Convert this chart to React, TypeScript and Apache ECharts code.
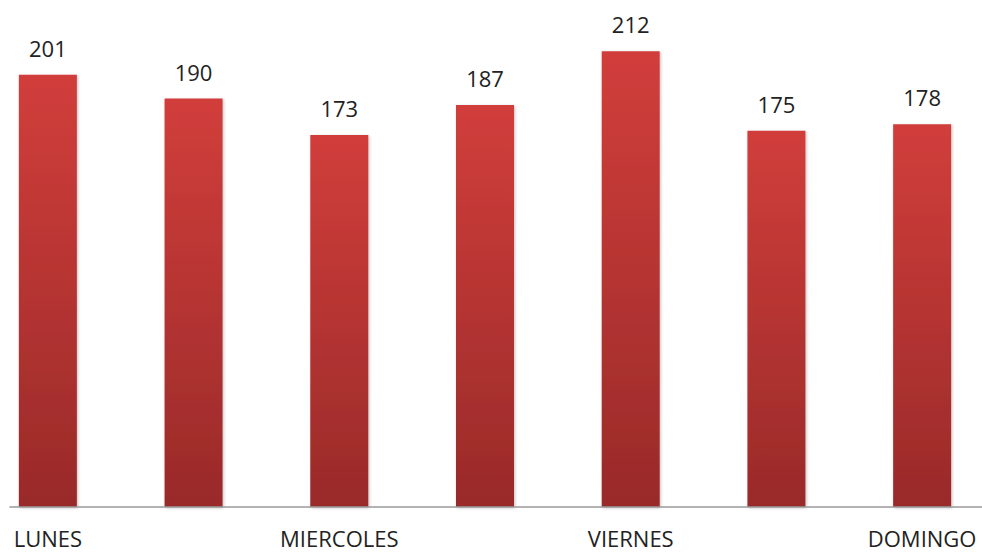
import React, { useEffect, useRef } from "react";
import * as echarts from "echarts";

const categories = ["LUNES", "MARTES", "MIERCOLES", "JUEVES", "VIERNES", "SABADO", "DOMINGO"];
const values = [201, 190, 173, 187, 212, 175, 178];

const SHIFT = 25.4;

export default function App() {
  const ref = useRef<HTMLDivElement>(null);
  useEffect(() => {
    if (!ref.current) return;
    const chart = echarts.init(ref.current, null, { renderer: "svg" });
    chart.setOption({
      animation: false,
      backgroundColor: "#ffffff",
      grid: { left: 0, right: 0, top: 12.5, bottom: 46, containLabel: false },
      xAxis: {
        type: "category",
        data: categories,
        axisLine: { show: false },
        axisTick: { show: false },
        axisLabel: {
          interval: 1,
          margin: 20,
          fontFamily: "Open Sans",
          fontSize: 22,
          color: "#222222",
        },
      },
      yAxis: {
        type: "value",
        min: 0,
        max: 230,
        show: false,
        splitLine: { show: false },
      },
      graphic: [
        {
          type: "line",
          shape: { x1: 9 + SHIFT, y1: 507, x2: 982 + SHIFT, y2: 507 },
          style: { stroke: "#9a9a9a", lineWidth: 1.5 },
          z: 10,
        },
      ],
      series: [
        {
          type: "bar",
          data: values,
          barWidth: 58,
          itemStyle: {
            color: new echarts.graphic.LinearGradient(0, 0, 0, 1, [
              { offset: 0, color: "#d13e3b" },
              { offset: 1, color: "#992a29" },
            ]),
            shadowColor: "rgba(0,0,0,0.25)",
            shadowBlur: 3,
            shadowOffsetX: 1,
            shadowOffsetY: 1,
          },
          label: {
            show: true,
            position: "top",
            distance: 16,
            fontFamily: "Open Sans",
            fontSize: 22,
            color: "#222222",
          },
        },
      ],
    });
    return () => chart.dispose();
  }, []);
  return (
    <div style={{ width: 982, height: 553, position: "absolute", left: 0, top: 0, overflow: "hidden", background: "#ffffff" }}>
      <div ref={ref} style={{ width: 1020.25, height: 553, position: "absolute", left: -SHIFT, top: 0 }} />
    </div>
  );
}
